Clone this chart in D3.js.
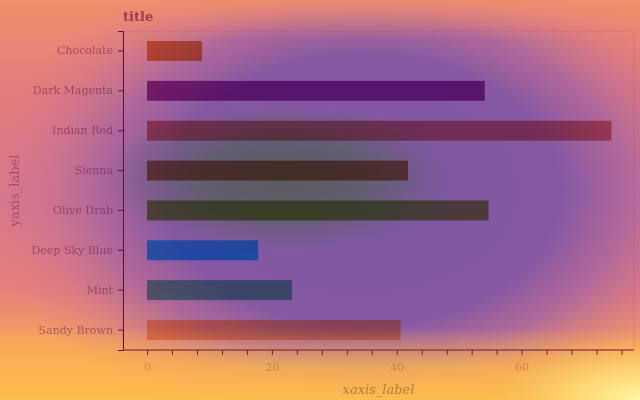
<!DOCTYPE html>
<html>
<head>
<meta charset="utf-8">
<script src="https://cdn.jsdelivr.net/npm/d3@7"></script>
<style>
  body { margin: 0; }
  svg { display: block; font-family: "DejaVu Serif", serif; }
</style>
</head>
<body>
<svg width="640" height="400"></svg>
<script>
// bar chart, categories top to bottom
var categories = ['Chocolate', 'Dark Magenta', 'Indian Red', 'Sienna', 'Olive Drab', 'Deep Sky Blue', 'Mint', 'Sandy Brown'];
var values = [8.8, 54.1, 74.4, 41.8, 54.7, 17.8, 23.2, 40.6];
var colors = ['#d2691e', '#8b008b', '#cd5c5c', '#a0522d', '#6b8e23', '#00bfff', '#3eb489', '#f4a460'];
var xTicks = [0, 20, 40, 60];

var svg = d3.select('svg'),
    margin = {top: 31, right: 6, bottom: 50, left: 123},
    width = +svg.attr('width') - margin.left - margin.right,
    height = +svg.attr('height') - margin.top - margin.bottom;

var defs = svg.append('defs');

// elliptical radial gradient helper
function blob(id, cx, cy, rx, ry, stops) {
  var r = defs.append('radialGradient').attr('id', id)
      .attr('gradientUnits', 'userSpaceOnUse')
      .attr('cx', cx).attr('cy', cy).attr('r', rx)
      .attr('gradientTransform', 'translate(' + cx + ',' + cy + ') scale(1,' + (ry / rx) + ') translate(' + (-cx) + ',' + (-cy) + ')');
  stops.forEach(function(s) {
    r.append('stop').attr('offset', s[0]).attr('stop-color', s[1]).attr('stop-opacity', s[2]);
  });
}

function band(id, stops) {
  var l = defs.append('linearGradient').attr('id', id)
      .attr('x1', 0).attr('y1', 0).attr('x2', 0).attr('y2', 1);
  stops.forEach(function(s) {
    l.append('stop').attr('offset', s[0]).attr('stop-color', s[1]).attr('stop-opacity', s[2]);
  });
}

band('bgbase', [[0, '#f0906c', 1], [0.25, '#e07c7e', 1], [0.5, '#d6788c', 1], [0.72, '#e4807c', 1], [0.88, '#f8a85a', 1], [1, '#fdba4e', 1]]);
blob('bgpurple', 362, 190, 380, 255, [[0, '#7a58a2', 1], [0.52, '#8658a2', 1], [0.68, '#a462a0', 0.85], [0.85, '#c66e92', 0.4], [1, '#d8748a', 0]]);
blob('bggrey', 282, 178, 178, 76, [[0, '#5a5c60', 1], [0.5, '#5e5e68', 0.85], [1, '#6a5e80', 0]]);
band('bgtop', [[0, '#f0906c', 0.9], [0.1, '#e88478', 0]]);
band('bgbottom', [[0.82, '#f9b052', 0], [0.92, '#fbb450', 0.8], [1, '#fdbc4e', 1]]);
blob('bgcorner', 640, 400, 150, 65, [[0, '#fffaa8', 1], [0.5, '#fde07c', 0.65], [1, '#fcc060', 0]]);

['bgbase', 'bgpurple', 'bggrey', 'bgtop', 'bgbottom', 'bgcorner'].forEach(function(id) {
  svg.append('rect').attr('width', 640).attr('height', 400).attr('fill', 'url(#' + id + ')');
});

var x = d3.scaleLinear().domain([-3.85, 78]).range([0, width]);
var y = d3.scaleBand().domain(categories).range([0, height]).paddingInner(0.5).paddingOuter(0.25);

var g = svg.append('g')
    .attr('transform', 'translate(' + margin.left + ',' + margin.top + ')');

// faint panel border
g.append('rect')
    .attr('width', width).attr('height', height)
    .attr('fill', 'none').attr('stroke', '#b04a70').attr('stroke-opacity', 0.25);

var bars = g.append('g').style('mix-blend-mode', 'multiply').attr('opacity', 0.75);
bars.selectAll('rect')
  .data(categories)
  .enter().append('rect')
    .attr('x', x(0))
    .attr('y', function(d) { return y(d); })
    .attr('width', function(d, i) { return x(values[i]) - x(0); })
    .attr('height', y.bandwidth())
    .attr('fill', function(d, i) { return colors[i]; });

// y axis
var yAxis = g.append('g').call(d3.axisLeft(y).tickSize(5).tickPadding(5));
yAxis.select('.domain').attr('stroke', '#5e1240');
yAxis.selectAll('.tick line').attr('stroke', '#5e1240');
yAxis.selectAll('.tick text')
    .attr('fill', '#500c3a').attr('fill-opacity', 0.45)
    .style('font-family', '"DejaVu Serif", serif').style('font-size', '11px');

// x axis: minor ticks every 4, labels every 20
var xAxis = g.append('g')
    .attr('transform', 'translate(0,' + height + ')')
    .call(d3.axisBottom(x).tickValues(d3.range(0, 78, 4)).tickSize(5).tickPadding(8)
      .tickFormat(function(d) { return xTicks.indexOf(d) >= 0 ? d : ''; }))
    .call(function(a) { a.select('.domain').attr('d', 'M0,0H' + width); });
xAxis.select('.domain').attr('stroke', '#7a1e2e');
xAxis.selectAll('.tick line').attr('stroke', '#7a1e2e');
xAxis.selectAll('.tick text')
    .attr('fill', '#8a3a3a').attr('fill-opacity', 0.35)
    .style('font-family', '"DejaVu Serif", serif').style('font-size', '11px');

// title and axis labels
svg.append('text')
    .attr('x', margin.left).attr('y', 21)
    .attr('fill', '#7a2448').attr('fill-opacity', 0.75)
    .style('font-weight', 'bold').style('font-size', '13px')
    .text('title');

svg.append('text')
    .attr('x', margin.left + width / 2).attr('y', 394)
    .attr('text-anchor', 'middle')
    .attr('fill', '#a0602a').attr('fill-opacity', 0.7)
    .style('font-style', 'italic').style('font-size', '13px')
    .text('xaxis_label');

svg.append('text')
    .attr('transform', 'translate(19,' + (margin.top + height / 2) + ') rotate(-90)')
    .attr('text-anchor', 'middle')
    .attr('fill', '#7a1e4e').attr('fill-opacity', 0.5)
    .style('font-size', '13px')
    .text('yaxis_label');
</script>
</body>
</html>
